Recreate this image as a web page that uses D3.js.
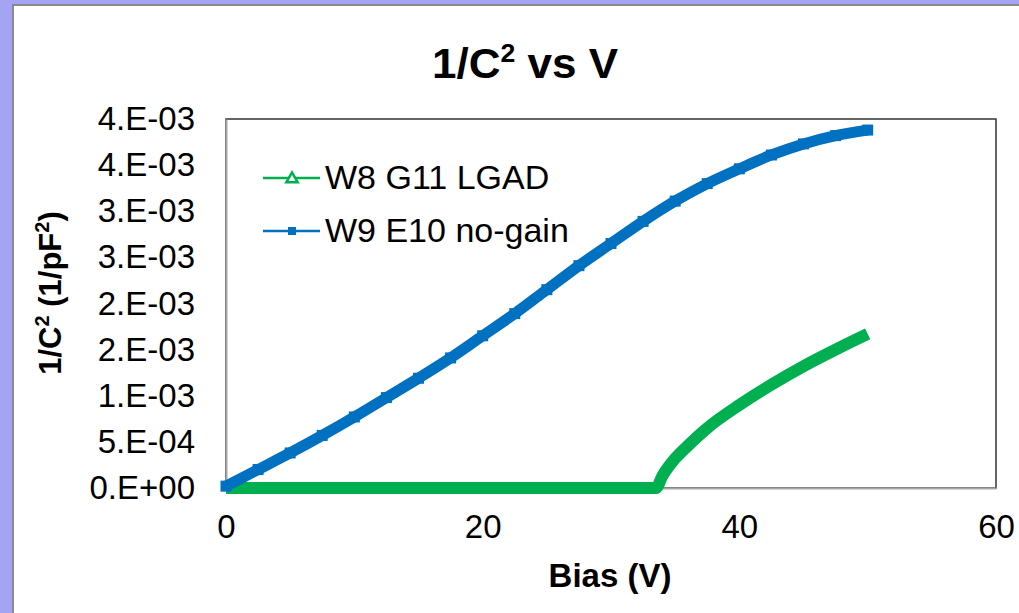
<!DOCTYPE html>
<html>
<head>
<meta charset="utf-8">
<script src="https://cdn.jsdelivr.net/npm/d3@7"></script>
<style>
  body { margin: 0; background: #fff; }
  svg { display: block; }
</style>
</head>
<body>
<div id="chart"></div>
<script>
// bias voltages (V) and 1/C^2 values (1/pF^2)
const lgadBias = [0, 5, 10, 15, 20, 25, 30, 33, 33.5, 34, 35, 36, 37.5, 40, 42.5, 45, 47.5, 50];
const lgadVals = [0, 0, 0, 0, 0, 0, 0, 0, 0, 0.13e-3, 0.32e-3, 0.46e-3, 0.65e-3, 0.90e-3, 1.12e-3, 1.32e-3, 1.50e-3, 1.67e-3];

const nogainBias = [0, 2.5, 5, 7.5, 10, 12.5, 15, 17.5, 20, 22.5, 25, 27.5, 30, 32.5, 35, 37.5, 40, 42.5, 45, 47.5, 50];
const nogainVals = [0.02e-3, 0.20e-3, 0.38e-3, 0.57e-3, 0.77e-3, 0.98e-3, 1.19e-3, 1.41e-3, 1.65e-3, 1.89e-3, 2.15e-3, 2.41e-3,
                    2.65e-3, 2.89e-3, 3.11e-3, 3.30e-3, 3.46e-3, 3.61e-3, 3.73e-3, 3.82e-3, 3.88e-3];

const seriesNames = ['W8 G11 LGAD', 'W9 E10 no-gain'];
const xTicks = [0, 20, 40, 60];
const yTicks = [0, 0.5e-3, 1e-3, 1.5e-3, 2e-3, 2.5e-3, 3e-3, 3.5e-3, 4e-3];
const yTickLabels = ['0.E+00', '5.E-04', '1.E-03', '2.E-03', '2.E-03', '3.E-03', '3.E-03', '4.E-03', '4.E-03'];

const width = 1019;
const height = 613;
const plot = { left: 226, top: 119, right: 996, bottom: 488 };

const green = '#00b050';
const blue = '#0070c0';
const font = 'Arial, "Liberation Sans", sans-serif';

const svg = d3.select('#chart').append('svg')
    .attr('width', width)
    .attr('height', height);

// slide frame
svg.append('rect').attr('x', 0).attr('y', 0).attr('width', width).attr('height', height).attr('fill', '#a4a4f2');
svg.append('rect').attr('x', 13).attr('y', 5).attr('width', width).attr('height', height)
    .attr('fill', '#fff').attr('stroke', '#8a8a8a').attr('stroke-width', 2);

const x = d3.scaleLinear().domain([0, 60]).range([plot.left, plot.right]);
const y = d3.scaleLinear().domain([0, 4e-3]).range([plot.bottom, plot.top]);

// title (narrow bold face, squeezed to the width of the original)
const title = svg.append('text')
    .attr('x', 525)
    .attr('y', 78)
    .attr('text-anchor', 'middle')
    .attr('font-family', font)
    .attr('font-weight', 'bold')
    .attr('font-size', 43)
    .attr('textLength', 186)
    .attr('lengthAdjust', 'spacingAndGlyphs')
    .attr('fill', '#000');
title.append('tspan').text('1/C');
title.append('tspan').attr('font-size', 26).attr('dy', -16).text('2');
title.append('tspan').attr('dy', 16).text(' vs V');

// plot frame
svg.append('rect')
    .attr('x', plot.left).attr('y', plot.top)
    .attr('width', plot.right - plot.left).attr('height', plot.bottom - plot.top)
    .attr('fill', 'none').attr('stroke', '#333').attr('stroke-width', 1.5);

// axes
const yAxis = svg.append('g')
    .attr('transform', `translate(${plot.left},0)`)
    .call(d3.axisLeft(y).tickValues(yTicks).tickSize(0).tickPadding(31)
        .tickFormat((d, i) => yTickLabels[i]));
yAxis.select('.domain').attr('stroke', '#a6a6a6').attr('stroke-width', 2);
yAxis.selectAll('text')
    .attr('font-family', font)
    .attr('font-size', 33).attr('fill', '#000');

const xAxis = svg.append('g')
    .attr('transform', `translate(0,${plot.bottom})`)
    .call(d3.axisBottom(x).tickValues(xTicks).tickSize(0).tickPadding(27).tickFormat(d3.format('d')));
xAxis.select('.domain').attr('stroke', '#a6a6a6').attr('stroke-width', 2);
xAxis.selectAll('text')
    .attr('font-family', font)
    .attr('font-size', 33).attr('fill', '#000');

// axis titles
svg.append('text')
    .attr('x', 610).attr('y', 587)
    .attr('text-anchor', 'middle')
    .attr('font-family', font)
    .attr('font-weight', 'bold').attr('font-size', 33)
    .text('Bias (V)');

const yTitle = svg.append('text')
    .attr('transform', 'translate(61,293) rotate(-90)')
    .attr('text-anchor', 'middle')
    .attr('font-family', font)
    .attr('font-weight', 'bold').attr('font-size', 31);
yTitle.append('tspan').text('1/C');
yTitle.append('tspan').attr('font-size', 20).attr('dy', -12).text('2');
yTitle.append('tspan').attr('dy', 12).text(' (1/pF');
yTitle.append('tspan').attr('font-size', 20).attr('dy', -12).text('2');
yTitle.append('tspan').attr('dy', 12).text(')');

// series
const line = d3.line().x(d => x(d[0])).y(d => y(d[1])).curve(d3.curveMonotoneX);

const lgad = lgadBias.map((v, i) => [v, lgadVals[i]]);
const nogain = nogainBias.map((v, i) => [v, nogainVals[i]]);

svg.append('path').datum(lgad)
    .attr('d', line)
    .attr('fill', 'none').attr('stroke', green).attr('stroke-width', 12)
    .attr('stroke-linejoin', 'round');

svg.append('path').datum(nogain)
    .attr('d', line)
    .attr('fill', 'none').attr('stroke', blue).attr('stroke-width', 11)
    .attr('stroke-linejoin', 'round');

svg.selectAll('.nogain-pt').data(nogain).enter()
    .append('rect')
    .attr('class', 'nogain-pt')
    .attr('x', d => x(d[0]) - 5.5).attr('y', d => y(d[1]) - 5.5)
    .attr('width', 11).attr('height', 11)
    .attr('fill', blue);

// legend
const legend = svg.append('g');
const legendRows = [
  { name: seriesNames[0], color: green, y: 178 },
  { name: seriesNames[1], color: blue, y: 231 }
];
legendRows.forEach((r, i) => {
  legend.append('line')
      .attr('x1', 263).attr('x2', 320).attr('y1', r.y).attr('y2', r.y)
      .attr('stroke', r.color).attr('stroke-width', 2.5);
  if (i === 0) {
    legend.append('path')
        .attr('d', d3.symbol(d3.symbolTriangle, 55)())
        .attr('transform', `translate(292,${r.y + 1})`)
        .attr('fill', '#fff').attr('stroke', r.color).attr('stroke-width', 2.5);
  } else {
    legend.append('rect')
        .attr('x', 288).attr('y', r.y - 4).attr('width', 8).attr('height', 8)
        .attr('fill', r.color);
  }
  legend.append('text')
      .attr('x', 325).attr('y', r.y + 11)
      .attr('font-family', font)
      .attr('font-size', 34).attr('fill', '#000')
      .text(r.name);
});
</script>
</body>
</html>
